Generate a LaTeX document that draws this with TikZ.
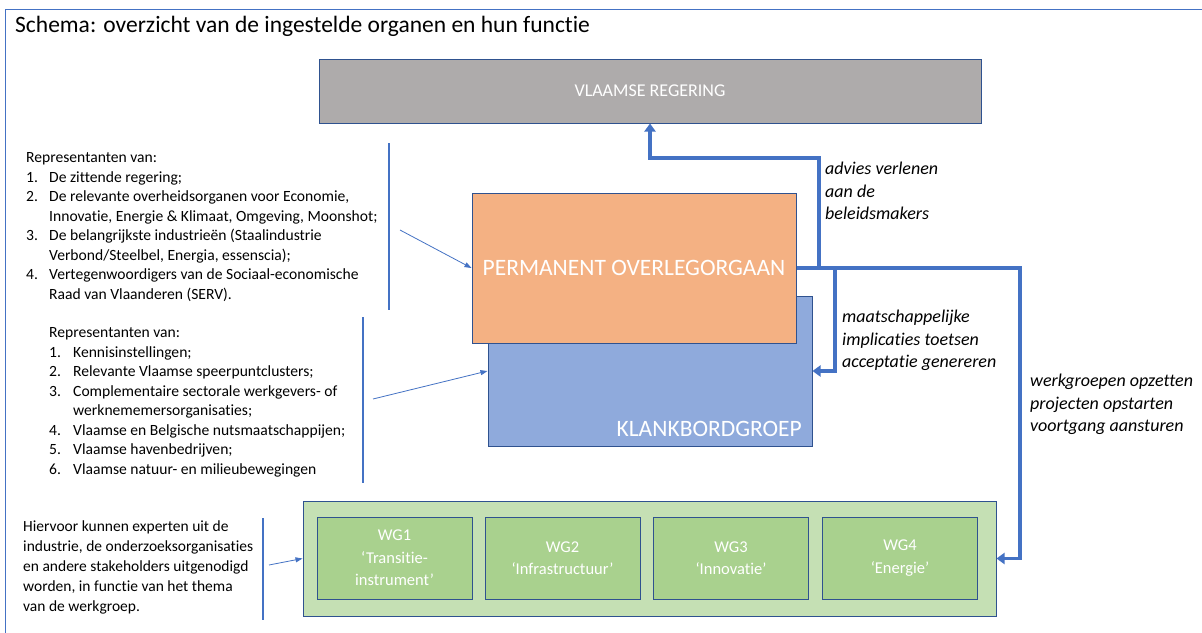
\documentclass[tikz,border=0pt]{standalone}
\usepackage{fontspec}
\setmainfont[Ligatures=NoCommon]{Carlito}
\usetikzlibrary{arrows.meta}
\definecolor{lineblue}{HTML}{4472C4}
\definecolor{boxborder}{HTML}{2F528F}
\definecolor{greyfill}{HTML}{AEABAB}
\definecolor{orangefill}{HTML}{F4B183}
\definecolor{bluefill}{HTML}{8FAADC}
\definecolor{greenouter}{HTML}{C5E0B4}
\definecolor{greeninner}{HTML}{A9D18E}
\begin{document}
\begin{tikzpicture}[x=1pt,y=-1pt,
  box/.style={draw=boxborder, line width=1pt, inner sep=0pt, text=white},
  flow/.style={draw=lineblue, line width=3.2pt, -{Triangle[length=8pt,width=11pt]}},
  thinarrow/.style={draw=lineblue, line width=0.8pt, -{Triangle[length=7pt,width=5pt]}},
  sepline/.style={draw=lineblue, line width=1.5pt},
  body/.style={font=\fontsize{15.6}{19.5}\selectfont, inner sep=0pt, anchor=base west},
  lbl/.style={font=\fontsize{18}{22.5}\selectfont\itshape, inner sep=0pt, anchor=base west},
  wg/.style={box, fill=greeninner, minimum width=155pt, minimum height=82pt, align=center, font=\fontsize{16.5}{22.5}\selectfont}
]
\useasboundingbox (0,0) rectangle (1202,632);
\fill[white] (0,0) rectangle (1202,632);
\draw[lineblue, line width=0.8pt] (5,640) -- (5,9) -- (1210,9);

\node[anchor=base west, inner sep=0pt, font=\fontsize{23.5}{26}\selectfont] (title) at (15,32) {Schema: overzicht van de ingestelde organen en hun functie};

\node[box, fill=greyfill, minimum width=662pt, minimum height=64pt, font=\fontsize{18}{21}\selectfont] (reg) at (650,91) {VLAAMSE REGERING};

\node[box, fill=bluefill, minimum width=324pt, minimum height=150pt] (klank) at (650,371) {};
\node[anchor=base east, inner sep=0pt, text=white, font=\fontsize{23.5}{26}\selectfont] (klanktxt) at (802,436) {KLANKBORDGROEP};
\node[box, fill=orangefill, minimum width=324pt, minimum height=150pt, font=\fontsize{23.5}{26}\selectfont] (perm) at (634,268) {PERMANENT OVERLEGORGAAN};

\node[box, fill=greenouter, minimum width=693pt, minimum height=115pt] (wgs) at (649.5,558.5) {};
\node[wg] (wg1) at (394.5,558) {WG1\\‘Transitie-\\instrument’};
\node[wg] (wg2) at (562.5,558) {WG2\\‘Infrastructuur’};
\node[wg] (wg3) at (731,558) {WG3\\‘Innovatie’};
\node[wg] (wg4) at (900,558) {WG4\\‘Energie’};

\draw[flow] (perm.east) -- (819,268) -- (819,158) -| (reg.south);
\draw[flow] (perm.east) -| (835,371) -- (klank.east);
\draw[flow] (perm.east) -| (1020,558.5) -- (wgs.east);

\node[lbl] (advies) at (825,174.5) {\begin{tabular}[t]{@{}l@{}}advies verlenen\\aan de\\beleidsmakers\end{tabular}};
\node[lbl] (maat) at (842,322.5) {\begin{tabular}[t]{@{}l@{}}maatschappelijke\\implicaties toetsen\\acceptatie genereren\end{tabular}};
\node[lbl] (werk) at (1030,386.5) {\begin{tabular}[t]{@{}l@{}}werkgroepen opzetten\\projecten opstarten\\voortgang aansturen\end{tabular}};

\node[body] (rep1) at (26,162.5) {\begin{tabular}[t]{@{}p{23pt}@{}l@{}}\multicolumn{2}{@{}l@{}}{Representanten van:}\\
1. & De zittende regering;\\
2. & De relevante overheidsorganen voor Economie,\\
 & Innovatie, Energie \& Klimaat, Omgeving, Moonshot;\\
3. & De belangrijkste industrieën (Staalindustrie\\
 & Verbond/Steelbel, Energia, essenscia);\\
4. & Vertegenwoordigers van de Sociaal-economische\\
 & Raad van Vlaanderen (SERV).\end{tabular}};

\node[body] (rep2) at (49,337.5) {\begin{tabular}[t]{@{}p{24pt}@{}l@{}}\multicolumn{2}{@{}l@{}}{Representanten van:}\\
1. & Kennisinstellingen;\\
2. & Relevante Vlaamse speerpuntclusters;\\
3. & Complementaire sectorale werkgevers- of\\
 & werknememersorganisaties;\\
4. & Vlaamse en Belgische nutsmaatschappijen;\\
5. & Vlaamse havenbedrijven;\\
6. & Vlaamse natuur- en milieubewegingen\end{tabular}};

\node[body, font=\fontsize{15.5}{20}\selectfont] (exp) at (23,531.5) {\begin{tabular}[t]{@{}l@{}}Hiervoor kunnen experten uit de\\
industrie, de onderzoeksorganisaties\\
en andere stakeholders uitgenodigd\\
worden, in functie van het thema\\
van de werkgroep.\end{tabular}};

\draw[sepline] (389,143) -- (389,310);
\draw[sepline] (363,317) -- (363,483);
\draw[sepline] (263,518) -- (263,620);

\coordinate (a1) at (400,230);
\coordinate (a2) at (373,399);
\coordinate (a3) at (269,565);
\draw[thinarrow] (a1) -- (perm.west);
\draw[thinarrow] (a2) -- (klank.west);
\draw[thinarrow] (a3) -- (wgs.west);
\end{tikzpicture}
\end{document}
